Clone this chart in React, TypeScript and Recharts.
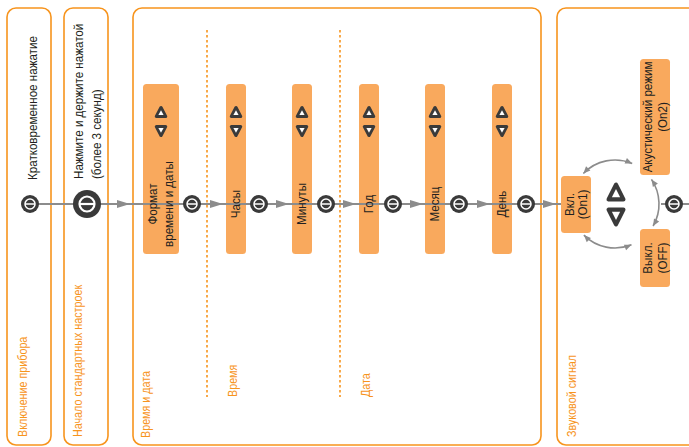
import React from 'react';
import { ComposedChart, XAxis, YAxis, Scatter, ReferenceArea, ReferenceLine } from 'recharts';

// ---------- text content ----------
const panelTitles = ['Включение прибора', 'Начало стандартных настроек', 'Время и дата', 'Звуковой сигнал'];
const sectionTitles = ['Время', 'Дата'];
const hintLines = [['Кратковременное нажатие'], ['Нажмите и держите нажатой', '(более 3 секунд)']];
const stepLabels = [['Формат', 'времени и даты'], ['Часы'], ['Минуты'], ['Год'], ['Месяц'], ['День']];
const soundModes = [['Вкл.', '(On1)'], ['Акустический режим', '(On2)'], ['Выкл.', '(OFF)']];

// ---------- layout (plot units = pixels) ----------
const W = 689;
const H = 447;
const FLOW_Y = 204;
const PANEL = { top: 8, bottom: 445 };
const panelX = [[7, 51], [64, 108], [133, 541], [557, 700]];
const panelTitlePos = [[22, 437], [77, 437], [145, 438], [571, 437]];
const dividerX = [207, 340];
const DIVIDER = { top: 30, bottom: 397 };
const sectionTitlePos = [[232, 397], [365, 397]];
const hintPos = [[33, 180], [87.5, 179]];
const stepX = [[143, 179], [226, 246], [292, 312], [359, 379], [425, 445], [492, 512]];
const STEP = { top: 84, bottom: 254, upY: 112, downY: 131 };
const buttonX = [30, 87, 192, 259, 326, 393, 459, 526, 674];
const arrowTipX = [130, 223, 289, 356, 423, 490, 556];
const soundBox = [[561, 591, 176, 233], [640, 670, 59, 175], [640, 670, 229, 287]];
const SELECTOR = { x: 615, y: 204, upY: 192, downY: 217 };
const flowSegments = [[30, 561], [661, 700]];

// ---------- styles ----------
const ORANGE = '#F7941D';
const BOX = '#F9A95D';
const DARK = '#3a3a3a';
const GRAY = '#8c8c8c';
const INK = '#231f20';
const FONT = '"Liberation Sans", Arial, sans-serif';
const SQUEEZE = 0.86;

// ---------- derived tables for the library ----------
type TextItem = { x: number; y: number; lines: string[]; anchor: string; size: number; color: string; gap: number };

const texts: TextItem[] = [
  ...panelTitles.map((t, i) => ({ x: panelTitlePos[i][0], y: panelTitlePos[i][1], lines: [t], anchor: 'start', size: 12.5, color: ORANGE, gap: 0 })),
  ...sectionTitles.map((t, i) => ({ x: sectionTitlePos[i][0], y: sectionTitlePos[i][1], lines: [t], anchor: 'start', size: 12.5, color: ORANGE, gap: 0 })),
  ...hintLines.map((l, i) => ({ x: hintPos[i][0], y: hintPos[i][1], lines: l, anchor: 'start', size: 13.5, color: INK, gap: 18.5 })),
  ...stepLabels.map((l, i) => ({ x: (stepX[i][0] + stepX[i][1]) / 2, y: FLOW_Y, lines: l, anchor: 'middle', size: 13.5, color: INK, gap: 16 })),
  ...soundModes.map((l, i) => ({ x: (soundBox[i][0] + soundBox[i][1]) / 2, y: (soundBox[i][2] + soundBox[i][3]) / 2, lines: l, anchor: 'middle', size: 13.5, color: INK, gap: i === 0 ? 13.5 : 15 })),
];

const buttons = buttonX.map((x, i) => ({ x, y: FLOW_Y, big: i === 1 }));
const arrows = arrowTipX.map((x) => ({ x, y: FLOW_Y }));
const stepIcons = stepX.flatMap(([a, b]) => [
  { x: (a + b) / 2, y: STEP.upY, dir: 1, big: false },
  { x: (a + b) / 2, y: STEP.downY, dir: -1, big: false },
]);
const selectorIcons = [
  { x: SELECTOR.x + 1, y: SELECTOR.upY, dir: 1, big: true },
  { x: SELECTOR.x + 1, y: SELECTOR.downY, dir: -1, big: true },
];
const selector = [{ x: SELECTOR.x, y: SELECTOR.y }];

// ---------- shapes ----------
const roundRect = (rx: number, fill: string, stroke: string, sw: number) => (p: any) => (
  <rect x={p.x} y={p.y} width={p.width} height={p.height} rx={rx} ry={rx} fill={fill} stroke={stroke} strokeWidth={sw} />
);

const renderText = (p: any) => {
  const { cx, cy, payload } = p;
  const n = payload.lines.length;
  return (
    <g>
      {payload.lines.map((t: string, i: number) => (
        <text
          key={i}
          transform={`translate(${cx + (i - (n - 1) / 2) * payload.gap},${cy}) rotate(-90) scale(${SQUEEZE},1)`}
          textAnchor={payload.anchor}
          dominantBaseline="central"
          fontSize={payload.size}
          fontFamily={FONT}
          fill={payload.color}
        >
          {t}
        </text>
      ))}
    </g>
  );
};

const renderButton = (p: any) => {
  const { cx, cy, payload } = p;
  const r = payload.big ? 14 : 9;
  const ir = payload.big ? 7.5 : 5;
  const sw = payload.big ? 2.2 : 1.5;
  return (
    <g>
      <circle cx={cx} cy={cy} r={r} fill={DARK} />
      <circle cx={cx} cy={cy} r={ir} fill="none" stroke="#fff" strokeWidth={sw} />
      <line x1={cx - ir} y1={cy} x2={cx + ir} y2={cy} stroke="#fff" strokeWidth={sw} />
    </g>
  );
};

const renderArrow = (p: any) => {
  const { cx, cy } = p;
  return <polygon points={`${cx},${cy} ${cx - 13},${cy - 4} ${cx - 13},${cy + 4}`} fill={GRAY} />;
};

const renderTri = (p: any) => {
  const { cx, cy, payload } = p;
  const w = payload.big ? 19 : 12.5;
  const h = payload.big ? 19 : 12;
  const s = payload.big ? 4.2 : 3.2;
  const d = payload.dir; // 1 = up, -1 = down
  const apexY = cy - d * (h / 2 - s / 2);
  const baseY = cy + d * (h / 2 - s / 2);
  const hw = w / 2 - s / 2;
  const outer = `${cx},${apexY} ${cx - hw},${baseY} ${cx + hw},${baseY}`;
  const gy = (apexY + 2 * baseY) / 3;
  const k = 0.56;
  const inner = `${cx},${gy + (apexY - gy) * k} ${cx - hw * k},${gy + (baseY - gy) * k} ${cx + hw * k},${gy + (baseY - gy) * k}`;
  return (
    <g>
      <polygon points={outer} fill={DARK} stroke={DARK} strokeWidth={s} strokeLinejoin="round" />
      <polygon points={inner} fill="#fff" />
    </g>
  );
};

const arcArrowHead = (x: number, y: number, dx: number, dy: number) => {
  const len = 7;
  const hw = 3;
  const bx = x - dx * len;
  const by = y - dy * len;
  return `${x},${y} ${bx - dy * hw},${by + dx * hw} ${bx + dy * hw},${by - dx * hw}`;
};

const renderSelector = (p: any) => {
  const { cx, cy } = p;
  const r = 44;
  const arcs = [
    [-136, -67],
    [-34, 30],
    [68, 135],
  ];
  return (
    <g>
      {arcs.map(([a0, a1], i) => {
        const t0 = (a0 * Math.PI) / 180;
        const t1 = (a1 * Math.PI) / 180;
        const x0 = cx + r * Math.cos(t0);
        const y0 = cy + r * Math.sin(t0);
        const x1 = cx + r * Math.cos(t1);
        const y1 = cy + r * Math.sin(t1);
        return (
          <g key={i}>
            <path d={`M${x0},${y0} A${r},${r} 0 0 1 ${x1},${y1}`} fill="none" stroke={GRAY} strokeWidth={1.6} />
            <polygon points={arcArrowHead(x0, y0, Math.sin(t0), -Math.cos(t0))} fill={GRAY} />
            <polygon points={arcArrowHead(x1, y1, -Math.sin(t1), Math.cos(t1))} fill={GRAY} />
          </g>
        );
      })}
    </g>
  );
};

export default function App() {
  return (
    <div style={{ position: 'absolute', left: 0, top: 0, width: W, height: H, background: '#fff' }}>
      <ComposedChart width={W} height={H} margin={{ top: 0, right: 0, bottom: 0, left: 0 }}>
        <XAxis type="number" dataKey="x" domain={[0, W]} hide allowDataOverflow />
        <YAxis type="number" dataKey="y" domain={[0, H]} reversed hide allowDataOverflow />

        {panelX.map(([a, b], i) => (
          <ReferenceArea key={`p${i}`} x1={a} x2={b} y1={PANEL.top} y2={PANEL.bottom} ifOverflow="visible"
            shape={roundRect(9, '#fff', ORANGE, 1.6)} />
        ))}

        {dividerX.map((x, i) => (
          <ReferenceLine key={`d${i}`} segment={[{ x, y: DIVIDER.top }, { x, y: DIVIDER.bottom }]}
            stroke={ORANGE} strokeWidth={1.6} strokeDasharray="2.5 2.5" ifOverflow="visible" />
        ))}

        {flowSegments.map(([a, b], i) => (
          <ReferenceLine key={`f${i}`} segment={[{ x: a, y: FLOW_Y }, { x: b, y: FLOW_Y }]}
            stroke={GRAY} strokeWidth={1.8} ifOverflow="visible" />
        ))}

        {stepX.map(([a, b], i) => (
          <ReferenceArea key={`s${i}`} x1={a} x2={b} y1={STEP.top} y2={STEP.bottom} ifOverflow="visible"
            shape={roundRect(3.5, BOX, 'none', 0)} />
        ))}

        {soundBox.map(([a, b, t, u], i) => (
          <ReferenceArea key={`b${i}`} x1={a} x2={b} y1={t} y2={u} ifOverflow="visible"
            shape={roundRect(3.5, BOX, 'none', 0)} />
        ))}

        <Scatter data={selector} shape={renderSelector} isAnimationActive={false} />
        <Scatter data={arrows} shape={renderArrow} isAnimationActive={false} />
        <Scatter data={buttons} shape={renderButton} isAnimationActive={false} />
        <Scatter data={stepIcons} shape={renderTri} isAnimationActive={false} />
        <Scatter data={selectorIcons} shape={renderTri} isAnimationActive={false} />
        <Scatter data={texts} shape={renderText} isAnimationActive={false} />
      </ComposedChart>
    </div>
  );
}
